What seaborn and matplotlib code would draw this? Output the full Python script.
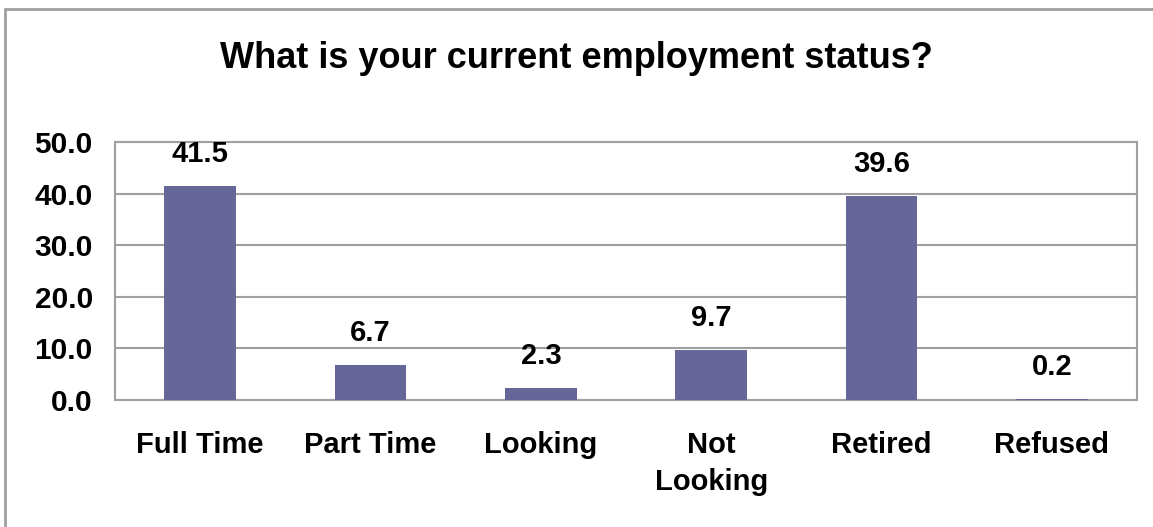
import matplotlib
matplotlib.use("Agg")
import matplotlib.pyplot as plt
from matplotlib.patches import Rectangle
from matplotlib.ticker import FixedLocator
import seaborn as sns
import pandas as pd

# chart data
categories = ["Full Time", "Part Time", "Looking", "Not\nLooking", "Retired", "Refused"]
percent = [41.5, 6.7, 2.3, 9.7, 39.6, 0.2]
y_ticks = [0, 10, 20, 30, 40, 50]

df = pd.DataFrame({"status": categories, "pct": percent})

sns.set_style("white")
plt.rcParams["font.family"] = ["Liberation Sans", "DejaVu Sans"]
plt.rcParams["font.weight"] = "bold"
plt.rcParams["text.color"] = "black"
plt.rcParams["xtick.labelcolor"] = "black"
plt.rcParams["ytick.labelcolor"] = "black"

grey = "#a0a0a0"
fig = plt.figure(figsize=(11.53, 5.27), dpi=100)
ax = fig.add_axes([115 / 1153, 1 - 400 / 527, (1137 - 115) / 1153, (400 - 142) / 527])

sns.barplot(data=df, x="status", y="pct", color="#666699", width=0.42,
            saturation=1, linewidth=0, ax=ax, zorder=3)

ax.set_xlim(-0.5, len(categories) - 0.5)
ax.set_ylim(0, 50)
ax.set_yticks(y_ticks)
ax.set_yticklabels([f"{v:.1f}" for v in y_ticks], fontsize=21.5, fontweight="bold")
ax.set_xticks(range(len(categories)))
ax.set_xticklabels(categories, fontsize=21, fontweight="bold", linespacing=1.45)
ax.xaxis.set_minor_locator(FixedLocator([i - 0.5 for i in range(len(categories) + 1)]))
ax.tick_params(axis="x", which="major", length=0, pad=22)
ax.tick_params(axis="x", which="minor", length=7, width=1.5, color=grey)
ax.tick_params(axis="y", length=9, width=1.5, color=grey, pad=7)
ax.set_xlabel("")
ax.set_ylabel("")

ax.yaxis.grid(True, color=grey, linewidth=1.5, zorder=0)
ax.set_axisbelow(True)
for side in ["left", "bottom", "right", "top"]:
    ax.spines[side].set_visible(True)
    ax.spines[side].set_color(grey)
    ax.spines[side].set_linewidth(1.5)

for bar, v in zip(ax.patches, percent):
    ax.annotate(f"{v:.1f}", (bar.get_x() + bar.get_width() / 2, v),
                xytext=(0, 13), textcoords="offset points",
                ha="center", va="bottom", fontsize=21, fontweight="bold")

fig.text(0.5, 1 - 58 / 527, "What is your current employment status?",
         ha="center", va="center", fontsize=26, fontweight="bold")

fig.add_artist(Rectangle((5 / 1153, -0.1), 1.2, 1.1 - 9 / 527,
                         transform=fig.transFigure, fill=False,
                         edgecolor=grey, linewidth=2))

fig.savefig("out.png", dpi=100)
